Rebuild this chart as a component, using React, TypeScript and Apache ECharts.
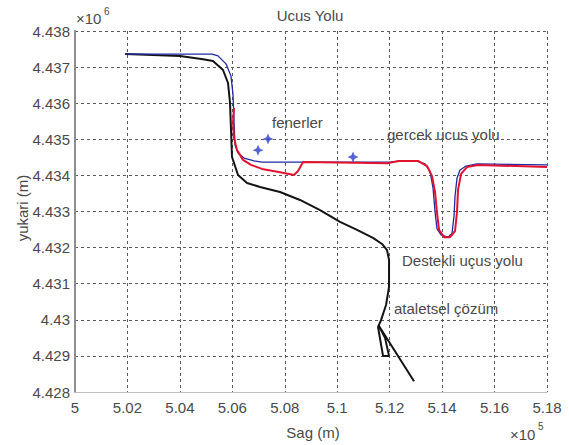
import React, { useEffect, useRef } from "react";
import * as echarts from "echarts";

// Axis values: east in units of 1e5 m, north in units of 1e6 m
const xTicks = { min: 5, max: 5.18, step: 0.02 };
const yTicks = { min: 4.428, max: 4.438, step: 0.001 };

// Inertial (dead-reckoning) solution
const inertialPath: [number, number][] = [
  [5.01907, 4.43736], [5.04005, 4.43731], [5.04882, 4.43722], [5.05263, 4.43717],
  [5.05645, 4.43692], [5.05835, 4.43656], [5.05912, 4.43601], [5.0595, 4.43526],
  [5.05988, 4.43451], [5.06217, 4.43401], [5.0656, 4.43379], [5.07056, 4.43368],
  [5.07818, 4.43354], [5.08581, 4.43332], [5.09344, 4.43304], [5.10107, 4.43271],
  [5.10755, 4.43249], [5.11365, 4.43227], [5.11709, 4.4321], [5.11899, 4.43193],
  [5.11976, 4.43166], [5.11976, 4.43091], [5.11861, 4.43041], [5.11671, 4.42999],
  [5.11556, 4.4298], [5.11747, 4.429], [5.11976, 4.429], [5.11823, 4.4295],
  [5.11594, 4.42983], [5.12929, 4.4283],
];

// True flight path
const truePath: [number, number][] = [
  [5.01907, 4.43736], [5.05225, 4.43736], [5.05454, 4.43731], [5.05759, 4.43709],
  [5.0595, 4.43675], [5.06026, 4.43623], [5.06064, 4.43553], [5.06102, 4.43484],
  [5.06217, 4.43462], [5.06446, 4.43448], [5.06827, 4.4344], [5.07132, 4.43437],
  [5.12014, 4.43437], [5.12395, 4.4344], [5.13005, 4.4344], [5.13349, 4.43432],
  [5.13539, 4.43412], [5.13654, 4.43365], [5.1373, 4.43299], [5.13806, 4.43252],
  [5.13959, 4.43235], [5.14226, 4.43229], [5.14378, 4.4324], [5.14455, 4.43288],
  [5.14493, 4.43343], [5.14569, 4.43393], [5.14684, 4.43415], [5.14913, 4.43426],
  [5.15332, 4.43432], [5.18, 4.43429],
];

// Beacon-aided flight path
const aidedPath: [number, number][] = [
  [5.06064, 4.43587], [5.06026, 4.43548], [5.06064, 4.43504], [5.06179, 4.4347],
  [5.06407, 4.43443], [5.06712, 4.43429], [5.07132, 4.43418], [5.07818, 4.43409],
  [5.08352, 4.43401], [5.08505, 4.43412], [5.08696, 4.43437], [5.11938, 4.43434],
  [5.12357, 4.4344], [5.13082, 4.4344], [5.13425, 4.43426], [5.13616, 4.43398],
  [5.1373, 4.43354], [5.13806, 4.43296], [5.13883, 4.43249], [5.14074, 4.43229],
  [5.14302, 4.43229], [5.14493, 4.43246], [5.14569, 4.43299], [5.14607, 4.4336],
  [5.14722, 4.43404], [5.1495, 4.43423], [5.1537, 4.43429], [5.18, 4.43423],
];

// Beacon positions
const beacons: [number, number][] = [
  [5.0698, 4.4347], [5.07361, 4.43501], [5.10603, 4.43451],
];

const FONT = "'Liberation Sans', Arial, sans-serif";
const TEXT = "#4a4a4a";

function label(text: string, x: number, y: number, size = 15, align = "left", extra: any = {}) {
  return {
    type: "text",
    x,
    y,
    ...extra,
    style: {
      text,
      fill: TEXT,
      fontSize: size,
      fontFamily: FONT,
      align,
      verticalAlign: "middle",
    },
  };
}

export default function App() {
  const ref = useRef<HTMLDivElement>(null);

  useEffect(() => {
    if (!ref.current) return;
    const chart = echarts.init(ref.current, null, { renderer: "svg" });
    const gridLine = { show: true, lineStyle: { color: "#5a5a5a", type: [3, 3], width: 1 } };
    chart.setOption({
      animation: false,
      backgroundColor: "#ffffff",
      grid: { left: 75, top: 31, width: 472, height: 361, containLabel: false },
      xAxis: {
        type: "value",
        min: xTicks.min,
        max: xTicks.max,
        interval: xTicks.step,
        axisLine: { show: true, lineStyle: { color: "#bdbdbd", width: 1 } },
        axisTick: { show: false },
        splitLine: gridLine,
        axisLabel: {
          color: TEXT,
          fontSize: 15,
          fontFamily: FONT,
          margin: 8,
          formatter: (v: number) => String(Number(v.toFixed(2))),
        },
      },
      yAxis: {
        type: "value",
        min: yTicks.min,
        max: yTicks.max,
        interval: yTicks.step,
        axisLine: { show: true, lineStyle: { color: "#8e8e8e", width: 2 } },
        axisTick: { show: false },
        splitLine: gridLine,
        axisLabel: {
          color: TEXT,
          fontSize: 15,
          fontFamily: FONT,
          margin: 5,
          formatter: (v: number) => String(Number(v.toFixed(3))),
        },
      },
      series: [
        {
          type: "line",
          data: inertialPath,
          showSymbol: false,
          lineStyle: { color: "#141414", width: 2 },
          z: 2,
        },
        {
          type: "line",
          data: truePath,
          showSymbol: false,
          lineStyle: { color: "#1f2aa0", width: 1.3 },
          z: 3,
        },
        {
          type: "line",
          data: aidedPath,
          showSymbol: false,
          lineStyle: { color: "#e3122f", width: 2 },
          z: 4,
        },
        {
          type: "scatter",
          data: beacons,
          symbol: "path://M0,-10 L3,-3 L10,0 L3,3 L0,10 L-3,3 L-10,0 L-3,-3 Z",
          symbolSize: 11,
          itemStyle: { color: "#2a3cc8" },
          z: 5,
        },
      ],
      graphic: [
        label("Ucus Yolu", 310, 15, 15, "center"),
        label("×10", 76, 18, 15, "left"),
        label("6", 104, 11, 10, "left"),
        label("Sag (m)", 313, 432, 15, "center"),
        label("×10", 510, 434, 15, "left"),
        label("5", 538, 426, 10, "left"),
        label("yukari (m)", 22, 208, 15, "center", { rotation: Math.PI / 2 }),
        label("fenerler", 272, 122, 15, "left"),
        label("gercek ucus yolu", 387, 134, 15, "left"),
        label("Destekli uçus yolu", 402, 260, 15, "left"),
        label("ataletsel çözüm", 394, 308, 15, "left"),
      ],
    });
    return () => chart.dispose();
  }, []);

  return (
    <div
      ref={ref}
      style={{ position: "fixed", left: 0, top: 0, width: 569, height: 445 }}
    />
  );
}
